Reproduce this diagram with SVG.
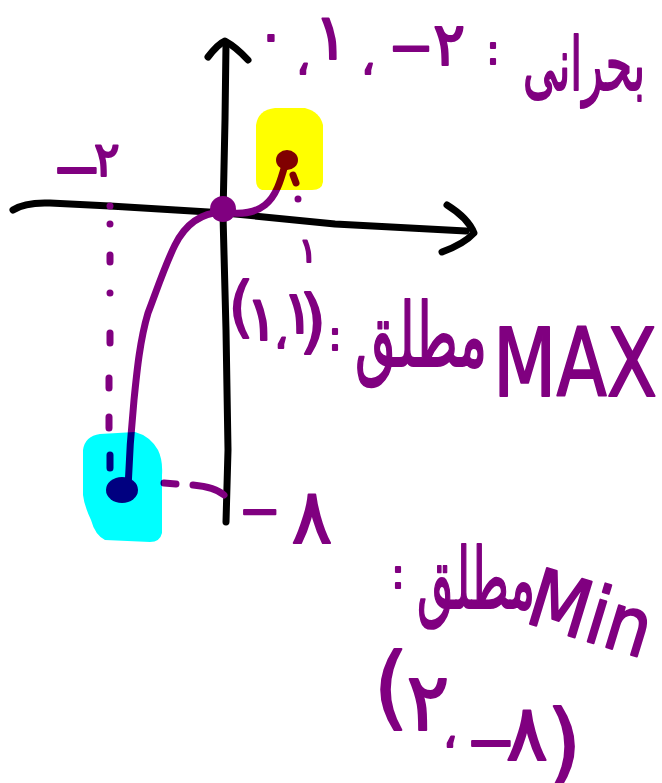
<svg xmlns="http://www.w3.org/2000/svg" width="662" height="783" viewBox="0 0 662 783">
<style>
.ax{fill:none;stroke:#000;stroke-width:7;stroke-linecap:round;stroke-linejoin:round}
.pen{fill:none;stroke:#800080;stroke-width:7;stroke-linecap:round;stroke-linejoin:round}
.dot{fill:#800080}
.hl{mix-blend-mode:multiply}
.hw{fill:#800080;stroke:#800080;stroke-width:2;stroke-linejoin:round;font-family:"DejaVu Sans",sans-serif;font-weight:normal;text-anchor:middle}
.ltr{direction:ltr;unicode-bidi:bidi-override}
</style>
<rect width="662" height="783" fill="#fff"/>
<g id="axes">
<path class="ax" d="M13,210 Q25,202 50,203 L110,206 L225,213 L335,224 L466,231"/>
<path class="ax" d="M447,205 Q468,218 474,233 Q464,244 442,252"/>
<path class="ax" d="M226,522 L228,450 L226,330 L223,215 L225,120 L226,44"/>
<path class="ax" d="M208,57 Q218,44 225,41 Q236,47 248,60"/>
</g>
<g id="guides">
<path class="pen" d="M110,206 l0,0.1 M110,224 l0,0.1 M110,255 L110,262 M110,293 l0,0.1 M110,333 L110,343 M109,378 L109,388 M109,417 L109,428 M110,455 L110,468"/>
<path class="pen" d="M293,175 L296,183 M298,199 l0,0.1"/>
<path class="pen" d="M164,483 L176,484 M193,485 Q215,487 224,495"/>
</g>
<g id="curve">
<path class="pen" d="M287,158 C282,175 278,195 265,205 C255,213 240,215 222,212 C200,213 185,225 175,245 C165,265 155,295 148,313 C140,340 137,370 134,400 C131,430 129,460 128,488"/>
<circle id="point-origin" cx="223" cy="209" r="13" class="dot"/>
<ellipse id="point-max" cx="287" cy="160" rx="11" ry="10" class="dot"/>
<ellipse id="point-min" cx="122" cy="490" rx="16" ry="13" class="dot"/>
</g>
<g id="highlights">
<path class="hl" fill="#ffff00" d="M256,125 Q258,110 275,108 L305,108 Q320,112 323,125 L323,182 Q322,190 312,190 L262,190 Q256,188 256,180 Z"/>
<path class="hl" fill="#00ffff" d="M83,450 Q85,436 100,434 L135,432 Q150,436 158,450 Q163,460 162,475 L162,533 Q160,542 150,542 L105,540 Q95,535 91,520 Q84,505 83,495 Z"/>
</g>
<g id="labels">
<text id="label-critical" class="hw"><tspan x="271" y="52" font-size="50">۰</tspan><tspan x="303" y="74" font-size="44">،</tspan><tspan x="331" y="59" font-size="64">۱</tspan><tspan x="368" y="74" font-size="44">،</tspan><tspan x="411" y="66" font-size="55">−</tspan><tspan x="449" y="65" font-size="60">۲</tspan><tspan x="493" y="64" font-size="40">:</tspan><tspan x="584" y="90" font-size="74" textLength="122" lengthAdjust="spacingAndGlyphs">بحرانی</tspan></text>
<text id="label-max" class="hw"><tspan x="241" y="329" font-size="65">(</tspan><tspan x="262" y="340" font-size="62">۱</tspan><tspan x="281" y="348" font-size="44">،</tspan><tspan x="298" y="333" font-size="60">۱</tspan><tspan x="313" y="345" font-size="70">)</tspan><tspan x="335" y="350" font-size="40">:</tspan><tspan x="421" y="366" font-size="88" textLength="132" lengthAdjust="spacingAndGlyphs">مطلق</tspan><tspan x="575" y="396" font-size="95" textLength="164" lengthAdjust="spacingAndGlyphs">MAX</tspan></text>
<text id="label-min" class="hw"><tspan x="398" y="588" font-size="40">:</tspan><tspan x="476" y="608" font-size="84" textLength="118" lengthAdjust="spacingAndGlyphs">مطلق</tspan></text>
<text id="label-min-latin" class="hw" transform="rotate(17 583 640)" x="583" y="640" font-size="80" textLength="125" lengthAdjust="spacingAndGlyphs">Min</text>
<text id="label-min-point" class="hw ltr"><tspan x="391" y="718" font-size="90">(</tspan><tspan x="428" y="730" font-size="80">۲</tspan><tspan x="450" y="747" font-size="44">،</tspan><tspan x="491" y="762" font-size="60">−</tspan><tspan x="527" y="760" font-size="78">۸</tspan><tspan x="564" y="775" font-size="90">)</tspan></text>
<text id="label-x-neg2" class="hw ltr"><tspan x="77" y="189" font-size="60">−</tspan><tspan x="107" y="176" font-size="48">۲</tspan></text>
<text id="label-x-1" class="hw" x="308" y="262" font-size="34">۱</text>
<text id="label-y-neg8" class="hw ltr"><tspan x="260" y="528" font-size="50">−</tspan><tspan x="312" y="543" font-size="76">۸</tspan></text>
</g>
</svg>
